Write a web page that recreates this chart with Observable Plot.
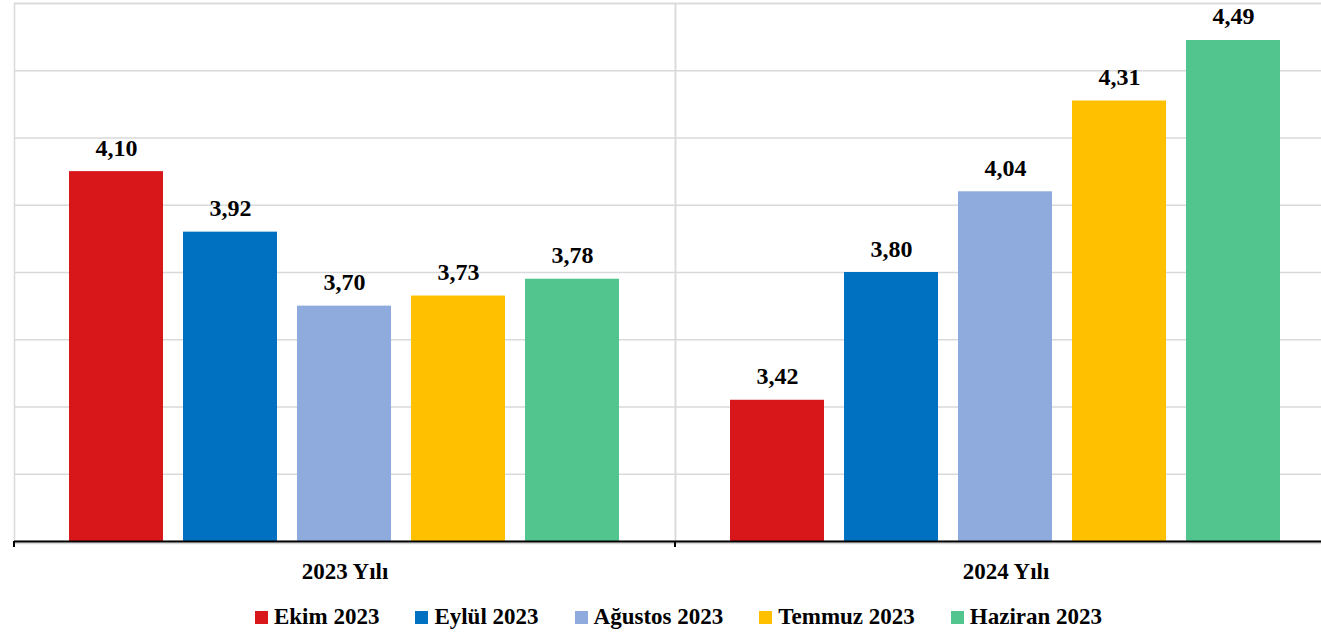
<!DOCTYPE html>
<html>
<head>
<meta charset="utf-8">
<script src="https://cdn.jsdelivr.net/npm/d3@7"></script>
<script src="https://cdn.jsdelivr.net/npm/@observablehq/plot@0.6"></script>
<style>
  html, body { margin: 0; padding: 0; background: #fff; overflow: hidden; }
  #wrap { position: relative; width: 1321px; height: 636px; overflow: hidden; }
  #chart svg { max-width: none !important; height: auto; }
  #legend {
    position: absolute; left: 0; top: 604px; width: 1357px;
    display: flex; justify-content: center; align-items: center;
    font-family: "Liberation Serif", "DejaVu Serif", serif; font-weight: bold; font-size: 23px; color: #000;
  }
  .item { display: flex; align-items: center; margin: 0 18px; }
  .sw { width: 13px; height: 13px; margin-right: 6px; }
</style>
</head>
<body>
<div id="wrap">
  <div id="chart"></div>
  <div id="legend"></div>
</div>
<script>
const groups = ["2023 Yılı", "2024 Yılı"];
const series = ["Ekim 2023", "Eylül 2023", "Ağustos 2023", "Temmuz 2023", "Haziran 2023"];
const values2023 = [4.10, 3.92, 3.70, 3.73, 3.78];
const values2024 = [3.42, 3.80, 4.04, 4.31, 4.49];
const colors = ["#D7171A", "#0070C0", "#8FAADC", "#FFC000", "#52C48E"];
const gridTicks = [3.0, 3.2, 3.4, 3.6, 3.8, 4.0, 4.2, 4.4, 4.6];
const yDomain = [3.0, 4.6];

const data = [];
series.forEach((s, i) => data.push({group: groups[0], series: s, value: values2023[i]}));
series.forEach((s, i) => data.push({group: groups[1], series: s, value: values2024[i]}));

const fmt = v => d3.format(".2f")(v).replace(".", ",");
const serif = '"Liberation Serif", "DejaVu Serif", serif';

const plot = Plot.plot({
  width: 1336,
  height: 595,
  marginLeft: 14,
  marginRight: 0,
  marginTop: 3,
  marginBottom: 54,
  facet: {marginTop: 0, marginRight: 0, marginBottom: 0, marginLeft: 0},
  style: {fontFamily: serif, fontSize: "23px", fontWeight: "bold", color: "#000", background: "#fff", overflow: "visible", maxWidth: "none"},
  fx: {domain: groups, padding: 0, label: null, axis: "bottom", tickSize: 0, tickPadding: 21},
  x: {domain: series, paddingInner: 0.175, paddingOuter: 0.48, axis: null},
  y: {domain: yDomain, axis: null},
  color: {domain: series, range: colors},
  marks: [
    Plot.gridY(gridTicks, {stroke: "#d9d9d9", strokeOpacity: 1, strokeWidth: 1.5}),
    Plot.frame({stroke: "#d9d9d9", strokeWidth: 1.5}),
    Plot.barY(data, {fx: "group", x: "series", y1: yDomain[0], y2: "value", fill: "series"}),
    Plot.text(data, {fx: "group", x: "series", y: "value", text: d => fmt(d.value), lineAnchor: "bottom", dy: -16, fontSize: 24, fontWeight: "bold", fontFamily: serif, fill: "#000"}),
    Plot.ruleY([yDomain[0]], {stroke: "#d9d9d9", strokeWidth: 1.5, dy: 2}),
    Plot.ruleY([yDomain[0]], {stroke: "#000", strokeWidth: 2})
  ]
});
document.getElementById("chart").appendChild(plot);

// edge tick marks at group boundaries, positioned from the library's fx scale
try {
  const fx = plot.scale("fx");
  const yS = plot.scale("y");
  const y0 = yS.apply(yDomain[0]);
  const svg = d3.select(plot);
  groups.forEach(g => {
    const xe = fx.apply(g);
    svg.append("line").attr("x1", xe).attr("x2", xe).attr("y1", y0).attr("y2", y0 + 6)
      .attr("stroke", "#000").attr("stroke-width", 2);
  });
} catch (e) { console.log(e); }

const legend = document.getElementById("legend");
series.forEach((s, i) => {
  const it = document.createElement("div");
  it.className = "item";
  it.innerHTML = `<div class="sw" style="background:${colors[i]}"></div><span>${s}</span>`;
  legend.appendChild(it);
});
</script>
</body>
</html>
